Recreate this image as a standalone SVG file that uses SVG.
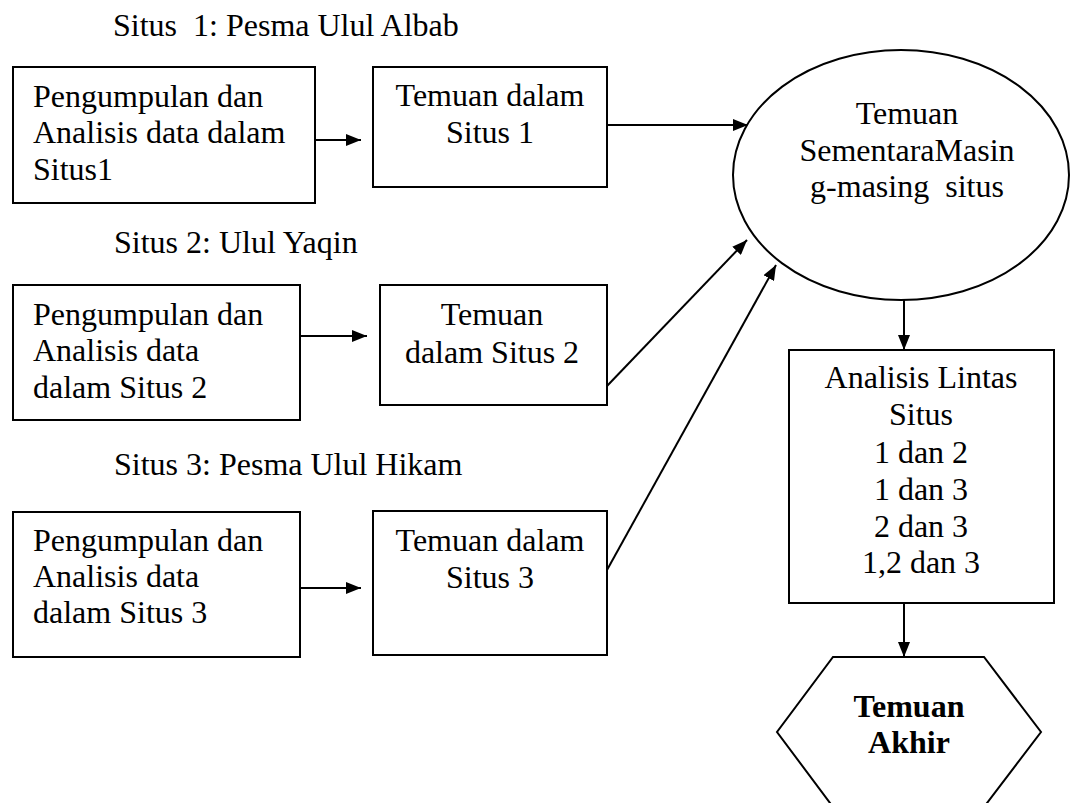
<svg xmlns="http://www.w3.org/2000/svg" width="1070" height="803" viewBox="0 0 1070 803">
<style>
text{font-family:"Liberation Serif","Times New Roman",serif;font-size:32px;fill:#000;white-space:pre}
.c{text-anchor:middle}
.b{font-weight:bold}
.shape{fill:#fff;stroke:#000;stroke-width:2}
.conn{fill:none;stroke:#000;stroke-width:2}
</style>
<defs>
<marker id="ah" markerUnits="userSpaceOnUse" markerWidth="15" markerHeight="12" refX="15" refY="6" orient="auto">
<path d="M0,0 L15,6 L0,12 z" fill="#000"/>
</marker>
</defs>
<rect width="1070" height="803" fill="#fff"/>

<g id="title1"><text x="113" y="36">Situs  1: Pesma Ulul Albab</text></g>
<g id="title2"><text x="114" y="253">Situs 2: Ulul Yaqin</text></g>
<g id="title3"><text x="114" y="475">Situs 3: Pesma Ulul Hikam</text></g>

<g id="connectors">
<line class="conn" x1="315" y1="140" x2="361" y2="140" marker-end="url(#ah)"/>
<line class="conn" x1="300" y1="336" x2="367" y2="336" marker-end="url(#ah)"/>
<line class="conn" x1="300" y1="588" x2="361" y2="588" marker-end="url(#ah)"/>
<line class="conn" x1="607" y1="125" x2="748" y2="125" marker-end="url(#ah)"/>
<line class="conn" x1="607" y1="386" x2="747" y2="240" marker-end="url(#ah)"/>
<line class="conn" x1="607" y1="570" x2="776" y2="265" marker-end="url(#ah)"/>
<line class="conn" x1="904" y1="300" x2="904" y2="350" marker-end="url(#ah)"/>
<line class="conn" x1="904" y1="603" x2="904" y2="657" marker-end="url(#ah)"/>
</g>

<g id="box1">
<rect class="shape" x="13" y="67" width="302" height="136"/>
<text x="33" y="107">Pengumpulan dan</text>
<text x="33" y="143">Analisis data dalam</text>
<text x="33" y="180">Situs1</text>
</g>
<g id="box2">
<rect class="shape" x="373" y="67" width="234" height="120"/>
<text class="c" x="490" y="106">Temuan dalam</text>
<text class="c" x="490" y="143">Situs 1</text>
</g>

<g id="box3">
<rect class="shape" x="13" y="285" width="287" height="135"/>
<text x="33" y="325">Pengumpulan dan</text>
<text x="33" y="361">Analisis data</text>
<text x="33" y="398">dalam Situs 2</text>
</g>
<g id="box4">
<rect class="shape" x="380" y="285" width="227" height="120"/>
<text class="c" x="492" y="325">Temuan</text>
<text class="c" x="492" y="363">dalam Situs 2</text>
</g>

<g id="box5">
<rect class="shape" x="13" y="512" width="287" height="145"/>
<text x="33" y="551">Pengumpulan dan</text>
<text x="33" y="587">Analisis data</text>
<text x="33" y="623">dalam Situs 3</text>
</g>
<g id="box6">
<rect class="shape" x="373" y="511" width="234" height="144"/>
<text class="c" x="490" y="551">Temuan dalam</text>
<text class="c" x="490" y="588">Situs 3</text>
</g>

<g id="ellipse">
<ellipse class="shape" cx="901" cy="175" rx="168" ry="125"/>
<text class="c" x="907" y="124">Temuan</text>
<text class="c" x="907" y="161">SementaraMasin</text>
<text class="c" x="907" y="197">g-masing  situs</text>
</g>

<g id="box7">
<rect class="shape" x="789" y="350" width="265" height="253"/>
<text class="c" x="921" y="388">Analisis Lintas</text>
<text class="c" x="921" y="425">Situs</text>
<text class="c" x="921" y="463">1 dan 2</text>
<text class="c" x="921" y="500">1 dan 3</text>
<text class="c" x="921" y="537">2 dan 3</text>
<text class="c" x="921" y="573">1,2 dan 3</text>
</g>

<g id="hexagon">
<polygon class="shape" points="833,657 984,657 1041,732 984,807 833,807 777,732"/>
<text class="c b" x="909" y="717">Temuan</text>
<text class="c b" x="909" y="753">Akhir</text>
</g>
</svg>
